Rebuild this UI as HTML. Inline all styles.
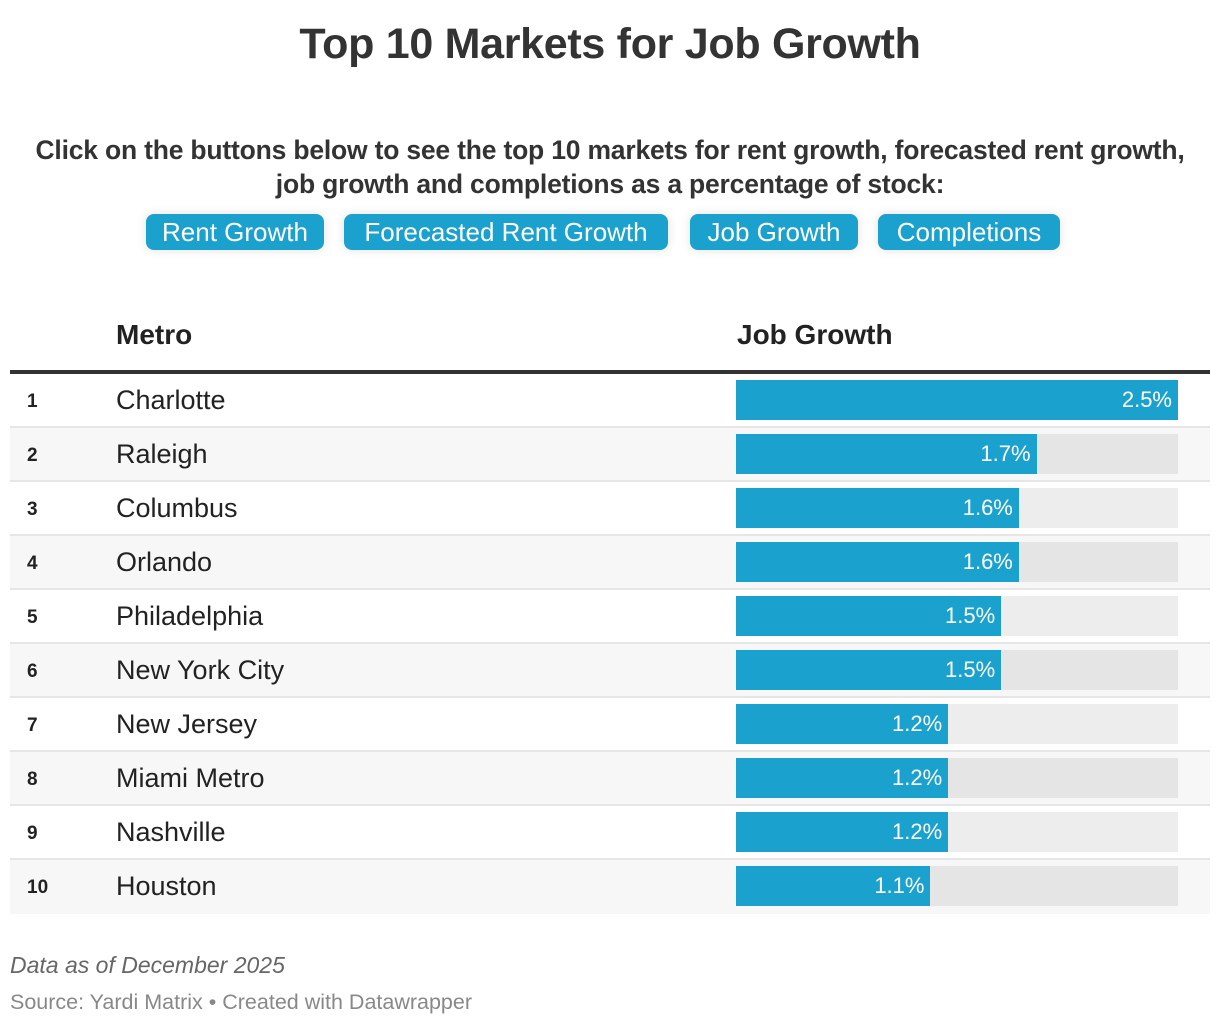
<!DOCTYPE html>
<html><head><meta charset="utf-8">
<style>
html,body{margin:0;padding:0;background:#fff;width:1220px;height:1026px;overflow:hidden;font-family:"Liberation Sans",sans-serif;color:#222}
.abs{position:absolute}
#title{left:0;width:1220px;top:20px;text-align:center;font-weight:bold;font-size:43px;color:#333;letter-spacing:-0.3px}
#sub{left:0;width:1220px;top:133px;text-align:center;font-weight:bold;font-size:26.5px;line-height:34px;color:#333;letter-spacing:-0.2px}
.btn{top:214px;height:36px;background:#1ba1cd;color:#fff;border-radius:8px;font-size:26px;line-height:36px;text-align:center;box-shadow:0 0 10px rgba(0,0,0,0.12)}
.hdr{top:319px;font-weight:bold;font-size:28px;color:#222}
#foot1{left:10px;top:952px;font-style:italic;font-size:23px;color:#666}
#foot2{left:10px;top:990px;font-size:21.5px;color:#888}
</style></head><body>
<div id="title" class="abs">Top 10 Markets for Job Growth</div>
<div id="sub" class="abs">Click on the buttons below to see the top 10 markets for rent growth, forecasted rent growth,<br>job growth and completions as a percentage of stock:</div>
<div class="abs btn" style="left:146px;width:178px">Rent Growth</div>
<div class="abs btn" style="left:344px;width:324px">Forecasted Rent Growth</div>
<div class="abs btn" style="left:690px;width:168px">Job Growth</div>
<div class="abs btn" style="left:878px;width:182px">Completions</div>
<div class="abs hdr" style="left:116px">Metro</div>
<div class="abs hdr" style="left:737px">Job Growth</div>
<div class="abs" style="left:10px;top:370px;width:1200px;height:4px;background:#333"></div>
<div id="rows"></div>
<div id="foot1" class="abs">Data as of December 2025</div>
<div id="foot2" class="abs">Source: Yardi Matrix • Created with Datawrapper</div>
<script>
const metros = ["Charlotte","Raleigh","Columbus","Orlando","Philadelphia","New York City","New Jersey","Miami Metro","Nashville","Houston"];
const jobGrowth = [2.5,1.7,1.6,1.6,1.5,1.5,1.2,1.2,1.2,1.1];
const maxValue = 2.5;
const barX0 = 736, barW = 442, rowTop = 374, rowH = 54;
function xScale(v){return v/maxValue*barW;}
const root = document.getElementById('rows');
metros.forEach((m,i)=>{
  const y = rowTop + i*rowH;
  const row = document.createElement('div');
  row.className='abs';
  row.style.cssText=`left:10px;top:${y}px;width:1200px;height:${rowH}px;background:${i%2?'#f7f7f7':'#fff'};`+(i<metros.length-1?'border-bottom:2px solid #e6e6e6;box-sizing:border-box;':'');
  
  
  root.appendChild(row);
  const rank = document.createElement('div');
  rank.className='abs';
  rank.style.cssText=`left:27px;top:${y+17}px;font-weight:bold;font-size:19px;color:#222`;
  rank.textContent = i+1;
  
  
  root.appendChild(rank);
  const name = document.createElement('div');
  name.className='abs';
  name.style.cssText=`left:116px;top:${y+11}px;font-size:27px;color:#222`;
  name.textContent = m;
  
  
  root.appendChild(name);
  const track = document.createElement('div');
  track.className='abs';
  track.style.cssText=`left:${barX0}px;top:${y+6}px;width:${barW}px;height:40px;background:${i%2?'#e5e5e5':'#ededed'}`;
  
  
  root.appendChild(track);
  const bar = document.createElement('div');
  bar.className='abs';
  bar.style.cssText=`left:${barX0}px;top:${y+6}px;width:${xScale(jobGrowth[i])}px;height:40px;background:#1ba1cd;color:#fff;font-size:22px;line-height:40px;text-align:right;box-sizing:border-box;padding-right:6px`;
  bar.textContent = jobGrowth[i].toFixed(1)+'%';
  
  
  root.appendChild(bar);
});
</script>
</body></html>
